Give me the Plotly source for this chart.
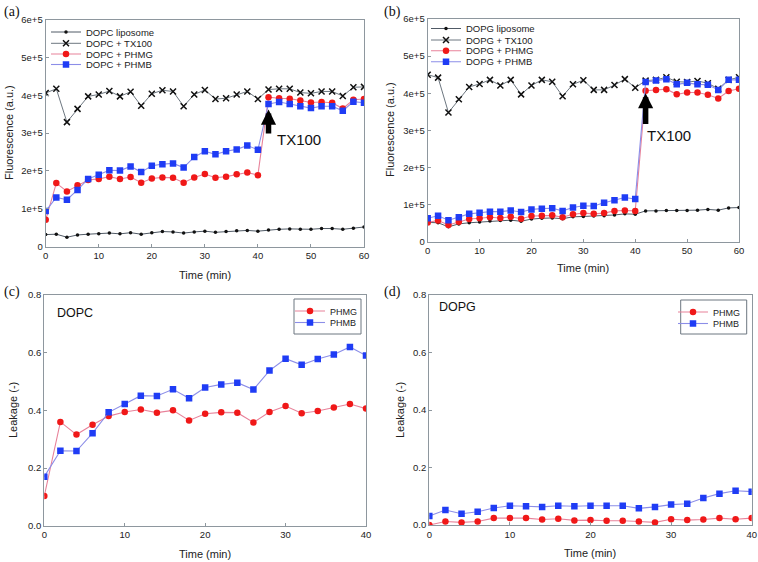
import plotly.graph_objects as go

# ---------------- data ----------------
t60 = list(range(0, 61, 2))
t40 = list(range(0, 41, 2))

dopc_lipo = [0.32, 0.33, 0.25, 0.31, 0.33, 0.34, 0.36, 0.34, 0.37, 0.33, 0.37, 0.40, 0.39, 0.36, 0.39, 0.41,
             0.38, 0.40, 0.42, 0.43, 0.41, 0.44, 0.46, 0.47, 0.46, 0.46, 0.48, 0.48, 0.46, 0.49, 0.52]
dopc_tx = [4.06, 4.17, 3.29, 3.64, 3.97, 4.02, 4.11, 3.97, 4.09, 3.72, 4.04, 4.13, 4.10, 3.71, 4.02, 4.14,
           3.90, 3.92, 4.02, 4.10, 3.90, 4.15, 4.17, 4.17, 4.07, 4.05, 4.10, 4.10, 3.98, 4.21, 4.22]
dopc_phmg = [0.71, 1.68, 1.46, 1.62, 1.76, 1.79, 1.85, 1.79, 1.84, 1.69, 1.80, 1.83, 1.82, 1.69, 1.83, 1.92,
             1.82, 1.85, 1.91, 1.96, 1.89, 3.95, 3.92, 3.91, 3.86, 3.81, 3.82, 3.80, 3.65, 3.88, 3.90]
dopc_phmb = [0.94, 1.30, 1.24, 1.50, 1.79, 1.90, 2.02, 2.01, 2.12, 1.97, 2.14, 2.18, 2.20, 2.09, 2.37, 2.52,
             2.44, 2.52, 2.57, 2.67, 2.56, 3.77, 3.82, 3.77, 3.71, 3.66, 3.71, 3.71, 3.59, 3.83, 3.80]

dopg_lipo = [0.52, 0.51, 0.40, 0.48, 0.51, 0.53, 0.56, 0.57, 0.58, 0.55, 0.61, 0.63, 0.64, 0.62, 0.67, 0.68,
             0.69, 0.70, 0.72, 0.75, 0.74, 0.83, 0.83, 0.84, 0.84, 0.84, 0.85, 0.87, 0.85, 0.91, 0.92]
dopg_tx = [4.50, 4.42, 3.48, 3.84, 4.17, 4.25, 4.36, 4.21, 4.36, 3.97, 4.21, 4.36, 4.31, 3.92, 4.24, 4.35,
           4.09, 4.09, 4.22, 4.38, 4.15, 4.34, 4.36, 4.43, 4.31, 4.30, 4.33, 4.27, 4.12, 4.36, 4.43]
dopg_phmg = [0.52, 0.57, 0.45, 0.54, 0.61, 0.63, 0.66, 0.64, 0.67, 0.62, 0.69, 0.70, 0.71, 0.66, 0.74, 0.77,
             0.75, 0.77, 0.83, 0.84, 0.83, 4.07, 4.09, 4.11, 3.97, 4.02, 4.02, 3.96, 3.86, 4.06, 4.12]
dopg_phmb = [0.63, 0.70, 0.58, 0.66, 0.75, 0.78, 0.81, 0.81, 0.84, 0.80, 0.87, 0.89, 0.90, 0.83, 0.92, 0.97,
             0.96, 1.05, 1.12, 1.19, 1.15, 4.30, 4.34, 4.38, 4.24, 4.28, 4.24, 4.23, 4.09, 4.36, 4.36]

leak_dopc_phmg = [0.103, 0.360, 0.316, 0.350, 0.380, 0.394, 0.403, 0.392, 0.400, 0.365, 0.388, 0.393, 0.392,
                  0.358, 0.394, 0.415, 0.390, 0.398, 0.410, 0.422, 0.406]
leak_dopc_phmb = [0.170, 0.260, 0.259, 0.321, 0.393, 0.422, 0.451, 0.450, 0.473, 0.442, 0.479, 0.490, 0.496,
                  0.472, 0.538, 0.579, 0.558, 0.578, 0.594, 0.620, 0.590]
leak_dopg_phmg = [0.000, 0.012, 0.009, 0.012, 0.024, 0.024, 0.024, 0.019, 0.022, 0.016, 0.017, 0.015, 0.015,
                  0.012, 0.009, 0.020, 0.017, 0.019, 0.024, 0.020, 0.024]
leak_dopg_phmb = [0.031, 0.052, 0.039, 0.046, 0.059, 0.067, 0.065, 0.063, 0.067, 0.065, 0.067, 0.067, 0.067,
                  0.058, 0.063, 0.071, 0.074, 0.094, 0.109, 0.119, 0.116]

fl_tickvals = [0, 1e5, 2e5, 3e5, 4e5, 5e5, 6e5]
fl_ticktext = ["0", "1e+5", "2e+5", "3e+5", "4e+5", "5e+5", "6e+5"]

E5 = 1e5
FONT = "Liberation Sans, Arial, sans-serif"
W, H = 758, 562

# ---------------- styles ----------------
LIPO = dict(mode="lines+markers", line=dict(color="#505a66", width=1),
            marker=dict(symbol="circle", size=3.5, color="#111111"))
TX = dict(mode="lines+markers", line=dict(color="#6d7780", width=1),
          marker=dict(symbol="x-thin", size=6, color="#111111", line=dict(width=1.5, color="#111111")))
PHMG = dict(mode="lines+markers", line=dict(color="#e8829a", width=1.1),
            marker=dict(symbol="circle", size=6.5, color="#f01818"))
PHMB = dict(mode="lines+markers", line=dict(color="#8c8ee8", width=1.1),
            marker=dict(symbol="square", size=6.5, color="#1f3cf5"))

fig = go.Figure()
legends = {}
count = [0]

def add(x, y, name, style, xa, ya, lx, ly, fs):
    count[0] += 1
    key = "legend" if count[0] == 1 else "legend%d" % count[0]
    legends[key] = dict(x=(lx - 40) / W, y=1 - ly / H, xanchor="left", yanchor="middle",
                        bgcolor="rgba(0,0,0,0)", font=dict(size=fs, family=FONT, color="#222"),
                        itemwidth=30)
    fig.add_trace(go.Scatter(x=x, y=y, name=name, xaxis=xa, yaxis=ya, legend=key, **style))

# panel a
add(t60, [v * E5 for v in dopc_lipo], "DOPC liposome", LIPO, "x", "y", 86, 32, 9.5)
add(t60, [v * E5 for v in dopc_tx], "DOPC + TX100", TX, "x", "y", 86, 43.3, 9.5)
add(t60, [v * E5 for v in dopc_phmg], "DOPC + PHMG", PHMG, "x", "y", 86, 54, 9.5)
add(t60, [v * E5 for v in dopc_phmb], "DOPC + PHMB", PHMB, "x", "y", 86, 64.5, 9.5)
# panel b
add(t60, [v * E5 for v in dopg_lipo], "DOPG liposome", LIPO, "x2", "y2", 466, 28.5, 9.5)
add(t60, [v * E5 for v in dopg_tx], "DOPG + TX100", TX, "x2", "y2", 466, 40, 9.5)
add(t60, [v * E5 for v in dopg_phmg], "DOPG + PHMG", PHMG, "x2", "y2", 466, 50.7, 9.5)
add(t60, [v * E5 for v in dopg_phmb], "DOPG + PHMB", PHMB, "x2", "y2", 466, 61.7, 9.5)
# panel c
add(t40, leak_dopc_phmg, "PHMG", PHMG, "x3", "y3", 330, 311, 9)
add(t40, leak_dopc_phmb, "PHMB", PHMB, "x3", "y3", 330, 322.5, 9)
# panel d
add(t40, leak_dopg_phmg, "PHMG", PHMG, "x4", "y4", 713, 312, 9)
add(t40, leak_dopg_phmb, "PHMB", PHMB, "x4", "y4", 713, 323.5, 9)

AX = dict(showgrid=False, zeroline=False, showline=True, mirror=True, linecolor="#8e979e", linewidth=1.2,
          ticks="inside", ticklen=3, tickcolor="#8e979e", automargin=False,
          tickfont=dict(size=9.5, color="#222", family=FONT))

def dx(a, b):
    return [a / W, b / W]
def dy(top, bot):
    return [1 - bot / H, 1 - top / H]

fig.update_layout(
    width=W, height=H, margin=dict(l=0, r=0, t=0, b=0, autoexpand=False),
    paper_bgcolor="white", plot_bgcolor="white",
    font=dict(family=FONT, color="#222"),
    xaxis=dict(AX, domain=dx(45.7, 364), range=[0, 60], tickvals=[0, 10, 20, 30, 40, 50, 60], anchor="y"),
    yaxis=dict(AX, domain=dy(19.5, 246.7), range=[0, 6e5], tickvals=fl_tickvals, ticktext=fl_ticktext, anchor="x"),
    xaxis2=dict(AX, domain=dx(427.7, 739), range=[0, 60], tickvals=[0, 10, 20, 30, 40, 50, 60], anchor="y2"),
    yaxis2=dict(AX, domain=dy(19, 241.7), range=[0, 6e5], tickvals=fl_tickvals, ticktext=fl_ticktext, anchor="x2"),
    xaxis3=dict(AX, domain=dx(44.3, 366), range=[0, 40], tickvals=[0, 10, 20, 30, 40], anchor="y3"),
    yaxis3=dict(AX, domain=dy(295, 525.7), range=[0, 0.8], tickvals=[0, 0.2, 0.4, 0.6, 0.8], tickformat=".1f",
                anchor="x3"),
    xaxis4=dict(AX, domain=dx(429.3, 751.7), range=[0, 40], tickvals=[0, 10, 20, 30, 40], anchor="y4"),
    yaxis4=dict(AX, domain=dy(295, 525), range=[0, 0.8], tickvals=[0, 0.2, 0.4, 0.6, 0.8], tickformat=".1f",
                anchor="x4"),
    showlegend=True,
    **legends,
)

# legend frames for panels c and d
fig.add_shape(type="rect", xref="paper", yref="paper", x0=294 / W, x1=361 / W, y0=1 - 334 / H, y1=1 - 299 / H,
              line=dict(color="#6d7780", width=1), fillcolor="rgba(0,0,0,0)", layer="above")
fig.add_shape(type="rect", xref="paper", yref="paper", x0=680.7 / W, x1=746.7 / W, y0=1 - 334 / H, y1=1 - 300 / H,
              line=dict(color="#6d7780", width=1), fillcolor="rgba(0,0,0,0)", layer="above")

ann = []
TF = dict(size=11, family=FONT, color="#222")
# axis titles
for txt, px, py, rot in [("Time (min)", 205, 275, 0), ("Time (min)", 583, 268, 0),
                         ("Time (min)", 205, 554, 0), ("Time (min)", 590, 553, 0),
                         ("Fluorescence (a.u.)", 9, 133, -90), ("Fluorescence (a.u.)", 390, 130, -90),
                         ("Leakage (-)", 13, 410, -90), ("Leakage (-)", 400, 410, -90)]:
    ann.append(dict(text=txt, x=px / W, y=1 - py / H, xref="paper", yref="paper", xanchor="center",
                    yanchor="middle", showarrow=False, textangle=rot, font=TF))
# panel labels
for lab, px, py in [("(a)", 2, 2), ("(b)", 382, 2), ("(c)", 2, 282), ("(d)", 382, 282)]:
    ann.append(dict(text=lab, x=px / W, y=1 - py / H, xref="paper", yref="paper", xanchor="left",
                    yanchor="top", showarrow=False, font=dict(size=14, family="Liberation Serif, serif", color="#111")))
# TX100 arrows
ann.append(dict(x=42, y=3.62e5, ax=42, ay=2.95e5, xref="x", yref="y", axref="x", ayref="y", text="",
                showarrow=True, arrowhead=2, arrowsize=0.55, arrowwidth=5.5, arrowcolor="#000"))
ann.append(dict(x=43.2, y=2.82e5, xref="x", yref="y", text="TX100", showarrow=False, xanchor="left",
                font=dict(size=15, family=FONT, color="#111")))
ann.append(dict(x=42, y=4.0e5, ax=42, ay=3.13e5, xref="x2", yref="y2", axref="x2", ayref="y2", text="",
                showarrow=True, arrowhead=2, arrowsize=0.55, arrowwidth=5.5, arrowcolor="#000"))
ann.append(dict(x=41.8, y=2.87e5, xref="x2", yref="y2", text="TX100", showarrow=False, xanchor="left",
                font=dict(size=15, family=FONT, color="#111")))
# panel text
ann.append(dict(x=1.3, y=0.737, xref="x3", yref="y3", text="DOPC", showarrow=False, xanchor="left",
                font=dict(size=12.5, family=FONT, color="#111")))
ann.append(dict(x=0.9, y=0.757, xref="x4", yref="y4", text="DOPG", showarrow=False, xanchor="left",
                font=dict(size=12.5, family=FONT, color="#111")))
fig.update_layout(annotations=ann)

fig.write_html("out.html", config={"displayModeBar": False},
               post_script="document.body.style.margin='0';document.body.style.overflow='hidden';")
